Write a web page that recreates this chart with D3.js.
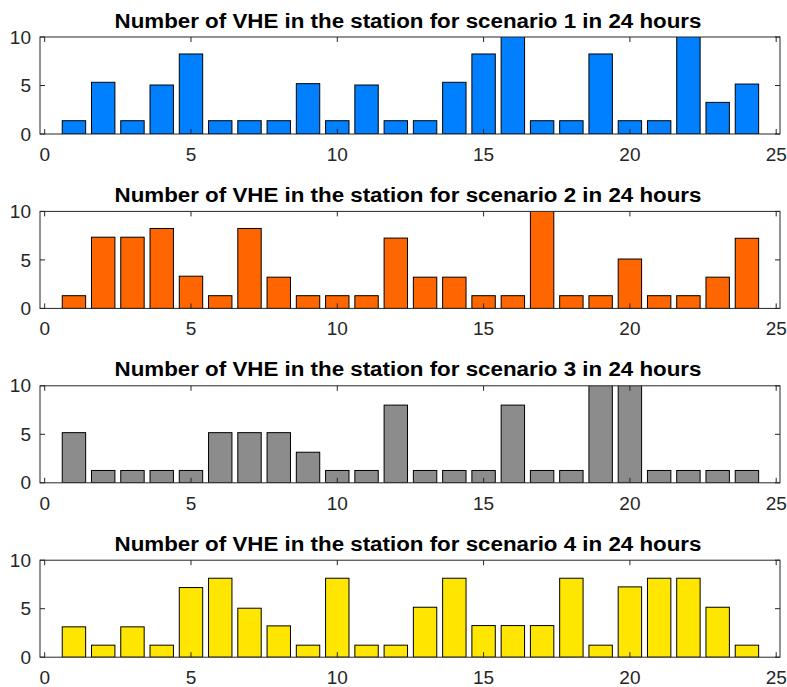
<!DOCTYPE html>
<html>
<head>
<meta charset="utf-8">
<script src="https://cdn.jsdelivr.net/npm/d3@7"></script>
<style>
  body { margin: 0; background: #fff; }
  svg { display: block; }
  text { font-family: "Liberation Sans", Arial, sans-serif; }
</style>
</head>
<body>
<svg id="chart" width="787" height="687"></svg>
<script>
// hours 1..24
const hours = d3.range(1, 25)

// values per scenario (bars above 10 are clipped at the top of the axes)
const scenario1 = [1.37, 5.33, 1.37, 5.05, 8.25, 1.37, 1.37, 1.37, 5.19, 1.37, 5.05, 1.37,
                   1.37, 5.33, 8.25, 12, 1.37, 1.37, 8.25, 1.37, 1.37, 12, 3.26, 5.15]
const scenario2 = [1.31, 7.34, 7.34, 8.24, 3.32, 1.31, 8.24, 3.22, 1.31, 1.31, 1.31, 7.25,
                   3.22, 3.22, 1.31, 1.31, 12, 1.31, 1.31, 5.09, 1.31, 1.31, 3.22, 7.23]
const scenario3 = [5.17, 1.27, 1.27, 1.27, 1.27, 5.17, 5.17, 5.17, 3.15, 1.27, 1.27, 8.01,
                   1.27, 1.27, 1.27, 8.01, 1.27, 1.27, 12, 12, 1.27, 1.27, 1.27, 1.27]
const scenario4 = [3.13, 1.24, 3.13, 1.24, 7.18, 8.14, 5.05, 3.23, 1.24, 8.14, 1.24, 1.24,
                   5.15, 8.14, 3.26, 3.26, 3.26, 8.14, 1.24, 7.25, 8.14, 8.14, 5.15, 1.24]

const scenarios = [scenario1, scenario2, scenario3, scenario4]
const colors = ['#0080ff', '#ff6600', '#8c8c8c', '#ffe600']
const titles = [1, 2, 3, 4].map(n => `Number of VHE in the station for scenario ${n} in 24 hours`)

const xTicks = [0, 5, 10, 15, 20, 25]
const yTicks = [0, 5, 10]

const style = {
    left: 40, right: 780,
    top: 37, height: 97, step: 174.4,
    barWidth: 0.8,
    tickLen: 5,
    axisColor: '#262626'
}

const svg = d3.select('#chart')

const x = d3.scaleLinear().domain([-0.16, 25.13]).range([style.left, style.right])

scenarios.forEach(function (values, i) {
    const top = style.top + i * style.step
    const y = d3.scaleLinear().domain([0, 10]).range([top + style.height, top])
    const g = svg.append('g')

    // 裁剪
    const clipId = 'clip' + i
    svg.append('clipPath').attr('id', clipId)
        .append('rect')
        .attr('x', style.left).attr('y', top)
        .attr('width', style.right - style.left).attr('height', style.height)

    // 柱
    g.append('g').attr('clip-path', `url(#${clipId})`)
        .selectAll('rect')
        .data(values)
        .join('rect')
        .attr('x', (d, j) => x(hours[j] - style.barWidth / 2))
        .attr('width', x(style.barWidth) - x(0))
        .attr('y', d => y(d))
        .attr('height', d => y(0) - y(d))
        .attr('fill', colors[i])
        .attr('stroke', '#000')
        .attr('stroke-width', 1)

    // 刻度 (inside, on all four sides)
    const ticks = g.append('g').attr('stroke', style.axisColor).attr('stroke-width', 1)
    xTicks.forEach(t => {
        ticks.append('line').attr('x1', x(t)).attr('x2', x(t))
            .attr('y1', y(0)).attr('y2', y(0) - style.tickLen)
        ticks.append('line').attr('x1', x(t)).attr('x2', x(t))
            .attr('y1', top).attr('y2', top + style.tickLen)
    })
    yTicks.forEach(t => {
        ticks.append('line').attr('x1', style.left).attr('x2', style.left + style.tickLen)
            .attr('y1', y(t)).attr('y2', y(t))
        ticks.append('line').attr('x1', style.right).attr('x2', style.right - style.tickLen)
            .attr('y1', y(t)).attr('y2', y(t))
    })

    // 邊框
    g.append('rect')
        .attr('x', style.left).attr('y', top)
        .attr('width', style.right - style.left).attr('height', style.height)
        .attr('fill', 'none')
        .attr('stroke', style.axisColor)
        .attr('stroke-width', 1)

    // 刻度文字
    g.append('g').selectAll('text')
        .data(xTicks)
        .join('text')
        .attr('x', d => x(d))
        .attr('y', y(0) + 27)
        .attr('text-anchor', 'middle')
        .attr('font-size', '19px')
        .attr('fill', style.axisColor)
        .text(d => d)

    g.append('g').selectAll('text')
        .data(yTicks)
        .join('text')
        .attr('x', style.left - 9)
        .attr('y', d => y(d))
        .attr('dy', '0.35em')
        .attr('text-anchor', 'end')
        .attr('font-size', '19px')
        .attr('fill', style.axisColor)
        .text(d => d)

    // 標題
    g.append('text')
        .attr('x', (style.left + style.right) / 2 - 2)
        .attr('y', top - 9.5)
        .attr('text-anchor', 'middle')
        .attr('font-size', '20px')
        .attr('font-weight', 'bold')
        .attr('textLength', 587)
        .attr('lengthAdjust', 'spacingAndGlyphs')
        .attr('fill', '#000')
        .text(titles[i])
})
</script>
</body>
</html>
